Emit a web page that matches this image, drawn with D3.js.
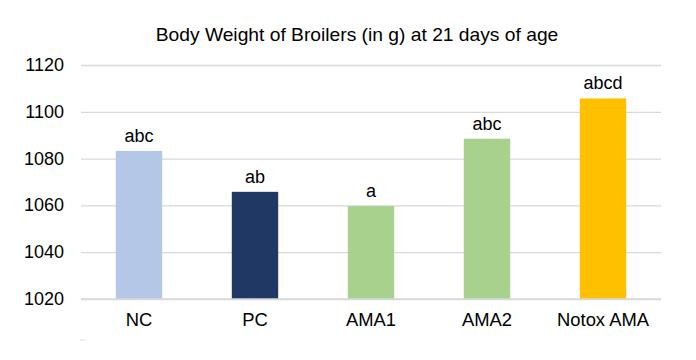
<!DOCTYPE html>
<html>
<head>
<meta charset="utf-8">
<script src="https://cdn.jsdelivr.net/npm/d3@7"></script>
<style>
  body { margin: 0; background: #fff; }
  text { font-family: "Liberation Sans", Arial, sans-serif; fill: #000; }
</style>
</head>
<body>
<div id="chart"></div>
<script>
// chart data
var categories = ["NC", "PC", "AMA1", "AMA2", "Notox AMA"];
var weights = [1083.3, 1065.8, 1059.7, 1088.5, 1105.7];
var letters = ["abc", "ab", "a", "abc", "abcd"];
var barColours = ["#b4c7e7", "#203864", "#a9d18e", "#a9d18e", "#ffc000"];
var yTicks = [1020, 1040, 1060, 1080, 1100, 1120];

var width = 696, height = 360;
var margin = {top: 65, right: 35, bottom: 61, left: 81};

var svg = d3.select("#chart")
  .append("svg")
    .attr("width", width)
    .attr("height", height);

var x = d3.scaleBand()
    .domain(categories)
    .range([margin.left, width - margin.right])
    .paddingInner(0.6)
    .paddingOuter(0.3);

var y = d3.scaleLinear()
    .domain([1020, 1120])
    .range([height - margin.bottom, margin.top]);

// title (slightly wide lettering like the original)
svg.append("text")
    .attr("transform", "translate(357,41) scale(1.1,1)")
    .attr("text-anchor", "middle")
    .style("font-size", "17.5px")
    .text("Body Weight of Broilers (in g) at 21 days of age");

// gridlines
var yAxis = d3.axisLeft(y)
    .tickValues(yTicks)
    .tickSize(-(width - margin.left - margin.right))
    .tickPadding(17)
    .tickFormat(d3.format("d"));

var gy = svg.append("g")
    .attr("transform", "translate(" + margin.left + ",0)")
    .call(yAxis);
gy.select(".domain").remove();
gy.selectAll(".tick line").attr("stroke", "#d9d9d9").attr("stroke-width", 1.3);
gy.selectAll(".tick text").style("font-size", "18px").attr("dy", "0.3em");

// bars
svg.selectAll("rect.bar")
    .data(categories)
    .enter()
    .append("rect")
    .attr("class", "bar")
    .attr("x", d => x(d))
    .attr("width", x.bandwidth())
    .attr("y", (d, i) => y(weights[i]))
    .attr("height", (d, i) => y(1020) - y(weights[i]))
    .style("fill", (d, i) => barColours[i]);

// significance letters
svg.selectAll("text.letter")
    .data(categories)
    .enter()
    .append("text")
    .attr("class", "letter")
    .attr("x", d => x(d) + x.bandwidth() / 2)
    .attr("y", (d, i) => y(weights[i]) - 9)
    .attr("text-anchor", "middle")
    .style("font-size", "18px")
    .text((d, i) => letters[i]);

// baseline
svg.append("line")
    .attr("x1", margin.left)
    .attr("x2", width - margin.right)
    .attr("y1", y(1020))
    .attr("y2", y(1020))
    .attr("stroke", "#d9d9d9")
    .attr("stroke-width", 1.3);

// category labels
svg.selectAll("text.cat")
    .data(categories)
    .enter()
    .append("text")
    .attr("class", "cat")
    .attr("transform", d => "translate(" + (x(d) + x.bandwidth() / 2) + "," + (y(1020) + 27) + ") scale(1.05,1)")
    .attr("text-anchor", "middle")
    .style("font-size", "17.5px")
    .text(d => d);

// small stray mark bottom-left
svg.append("line")
    .attr("x1", margin.left - 1)
    .attr("x2", margin.left + 4)
    .attr("y1", 340)
    .attr("y2", 340)
    .attr("stroke", "#d9d9d9");
</script>
</body>
</html>
